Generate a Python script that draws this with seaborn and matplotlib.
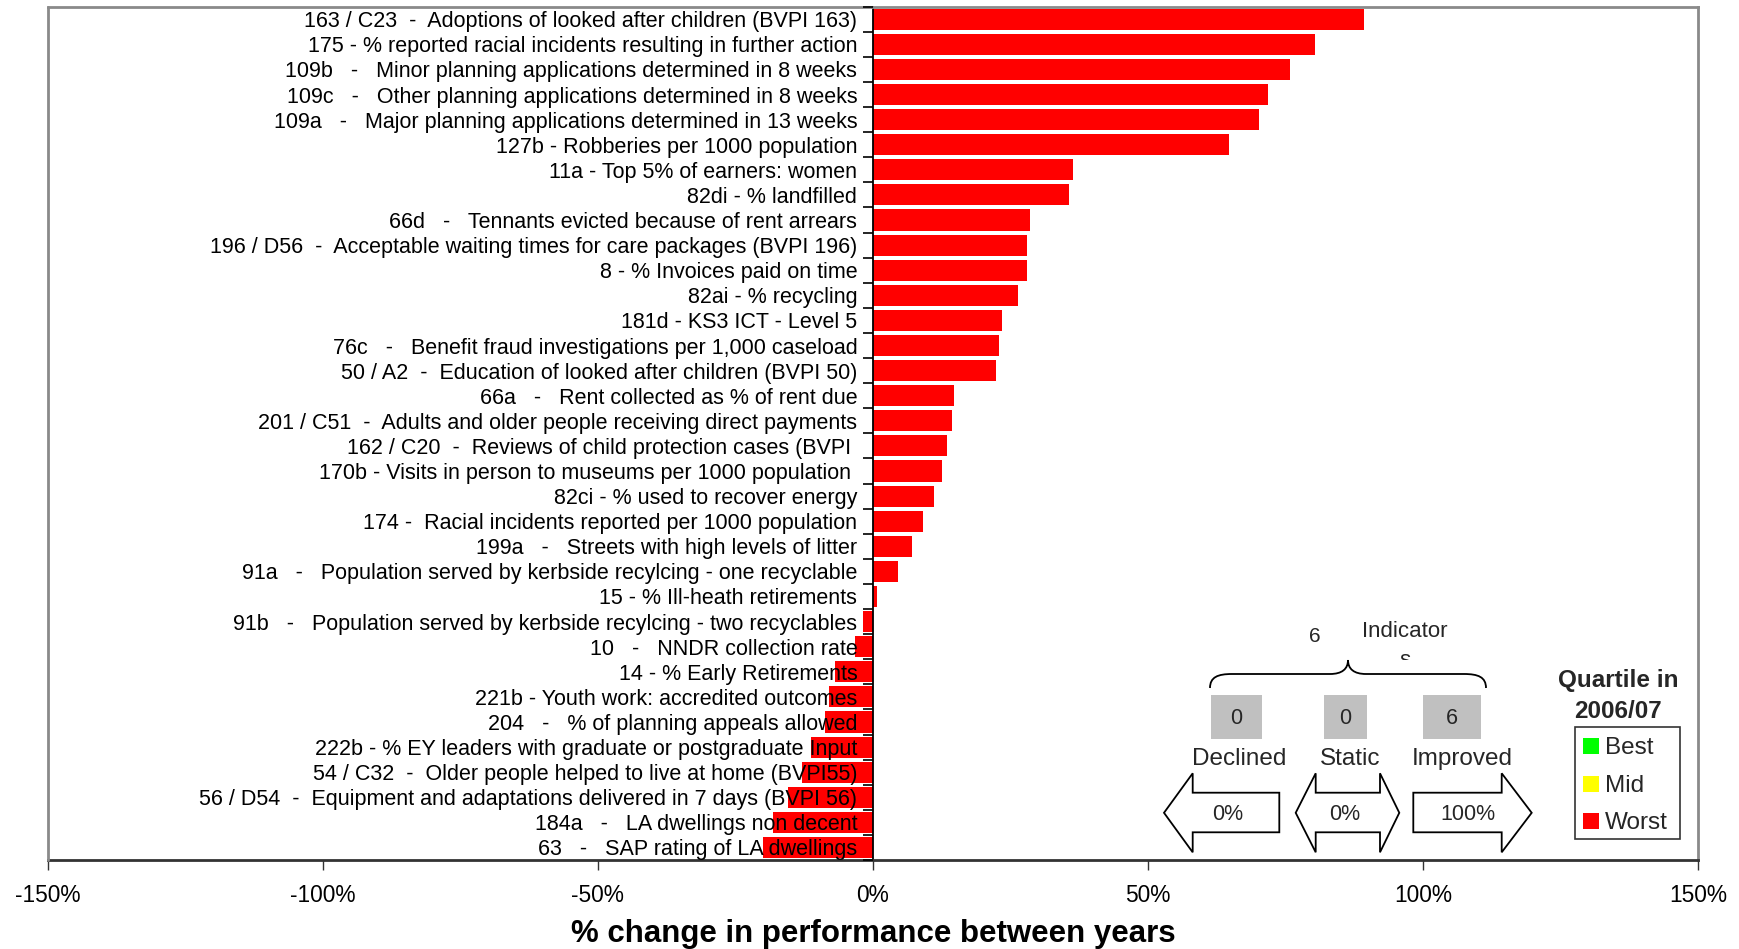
import numpy as np
import pandas as pd
import matplotlib
matplotlib.use("Agg")
import matplotlib.pyplot as plt
import seaborn as sns
from matplotlib.patches import Rectangle, Polygon, PathPatch
from matplotlib.path import Path
from matplotlib.transforms import Bbox, TransformedBbox

# ---------------- data ----------------
indicators = [
    "163 / C23  -  Adoptions of looked after children (BVPI 163)",
    "175 - % reported racial incidents resulting in further action",
    "109b   -   Minor planning applications determined in 8 weeks",
    "109c   -   Other planning applications determined in 8 weeks",
    "109a   -   Major planning applications determined in 13 weeks",
    "127b - Robberies per 1000 population",
    "11a - Top 5% of earners: women",
    "82di - % landfilled",
    "66d   -   Tennants evicted because of rent arrears",
    "196 / D56  -  Acceptable waiting times for care packages (BVPI 196)",
    "8 - % Invoices paid on time",
    "82ai - % recycling",
    "181d - KS3 ICT - Level 5",
    "76c   -   Benefit fraud investigations per 1,000 caseload",
    "50 / A2  -  Education of looked after children (BVPI 50)",
    "66a   -   Rent collected as % of rent due",
    "201 / C51  -  Adults and older people receiving direct payments",
    "162 / C20  -  Reviews of child protection cases (BVPI ",
    "170b - Visits in person to museums per 1000 population ",
    "82ci - % used to recover energy",
    "174 -  Racial incidents reported per 1000 population",
    "199a   -   Streets with high levels of litter",
    "91a   -   Population served by kerbside recylcing - one recyclable",
    "15 - % Ill-heath retirements",
    "91b   -   Population served by kerbside recylcing - two recyclables",
    "10   -   NNDR collection rate",
    "14 - % Early Retirements",
    "221b - Youth work: accredited outcomes",
    "204   -   % of planning appeals allowed",
    "222b - % EY leaders with graduate or postgraduate Input",
    "54 / C32  -  Older people helped to live at home (BVPI55)",
    "56 / D54  -  Equipment and adaptations delivered in 7 days (BVPI 56)",
    "184a   -   LA dwellings non decent",
    "63   -   SAP rating of LA dwellings",
]
change_pct = [
    89.3, 80.3, 75.8, 71.8, 70.2, 64.7, 36.4, 35.6, 28.5, 28.1, 28.0, 26.4,
    23.5, 23.0, 22.3, 14.7, 14.4, 13.4, 12.6, 11.2, 9.2, 7.1, 4.5, 0.7,
    -1.7, -3.2, -6.9, -8.0, -8.7, -11.2, -12.8, -15.5, -18.1, -20.0,
]
quartiles = [
    "Worst", "Worst", "Worst", "Worst", "Worst", "Worst", "Worst", "Worst",
    "Worst", "Worst", "Worst", "Worst", "Worst", "Worst", "Worst", "Worst",
    "Worst", "Worst", "Worst", "Worst", "Worst", "Worst", "Worst", "Worst",
    "Worst", "Worst", "Worst", "Worst", "Worst", "Worst", "Worst", "Worst",
    "Worst", "Worst",
]
xtick_values = [-150, -100, -50, 0, 50, 100, 150]
xtick_labels = ["-150%", "-100%", "-50%", "0%", "50%", "100%", "150%"]
x_title = "% change in performance between years"

legend_levels = ["Best", "Mid", "Worst"]
legend_colors = ["#00FF00", "#FFFF00", "#FF0000"]
legend_title = ["Quartile in", "2006/07"]

status_names = ["Declined", "Static", "Improved"]
status_counts = ["0", "0", "6"]
status_shares = ["0%", "0%", "100%"]
total_indicators = "6"
total_word = "Indicator"

# ---------------- style ----------------
sns.set_theme(style="white")
plt.rcParams["font.family"] = ["Liberation Sans", "DejaVu Sans"]
plt.rcParams["axes.axisbelow"] = False
plt.rcParams["axes.unicode_minus"] = False

W, H = 1740, 949
fig = plt.figure(figsize=(W / 100, H / 100), dpi=100)
fig.patch.set_facecolor("white")

ax_l, ax_r, ax_t, ax_b = 47.7, 1698.0, 6.7, 860.0
ax = fig.add_axes([ax_l / W, 1 - ax_b / H, (ax_r - ax_l) / W, (ax_b - ax_t) / H])

df = pd.DataFrame({"indicator": indicators, "change": change_pct, "quartile": quartiles})
sns.barplot(
    data=df, x="change", y="indicator", hue="quartile",
    hue_order=legend_levels, palette=dict(zip(legend_levels, legend_colors)),
    orient="h", dodge=False, width=0.84, errorbar=None, legend=False,
    linewidth=0, saturation=1, ax=ax,
)

ax.set_xlim(-150, 150)
ax.set_ylim(len(indicators) - 0.5, -0.5)
ax.set_xticks(xtick_values, xtick_labels)
ax.set_xlabel("")
ax.set_ylabel("")
ax.set_facecolor("white")

frame_gray = "#8a8a8a"
for s in ["top", "right"]:
    ax.spines[s].set_color(frame_gray)
    ax.spines[s].set_linewidth(2)
ax.spines["left"].set_position(("data", 0))
ax.spines["left"].set_color("black")
ax.spines["left"].set_linewidth(1.3)
ax.spines["bottom"].set_color("#333333")
ax.spines["bottom"].set_linewidth(2)
ax.plot([0, 0], [0, 1], transform=ax.transAxes, color=frame_gray, lw=2,
        clip_on=False, zorder=3)

ax.set_yticks(np.arange(-0.5, len(indicators), 1.0), minor=True)
ax.tick_params(axis="y", which="major", left=True, length=0, pad=11.2,
               labelsize=15.5, labelcolor="black")
ax.tick_params(axis="y", which="minor", left=True, length=7, width=1.2,
               color="black", direction="out")
ax.tick_params(axis="x", which="major", bottom=True, length=7, width=1,
               color="#333333", direction="out", pad=10.5, labelsize=16.4,
               labelcolor="black")
ax.tick_params(axis="x", which="minor", bottom=False)

# x-axis title
ax.set_xlabel(x_title, fontsize=22.5, fontweight="bold", color="black")
axh = ax_b - ax_t
ax.xaxis.set_label_coords(0.5, -(942.0 - ax_b) / axh)
ax.xaxis.label.set_verticalalignment("baseline")

# ---------------- overlay (summary panel + legend) ----------------
ov = fig.add_axes([0, 0, 1, 1])
ov.set_xlim(0, W)
ov.set_ylim(H, 0)
ov.axis("off")

# total + word
ov.text(1315, 642.3, total_indicators, ha="center", va="baseline", fontsize=15)
ov.text(1404.3, 637.3, total_word, ha="center", va="baseline", fontsize=16)
t_s = ov.text(1405, 666.5, "s", ha="center", va="baseline", fontsize=16)
t_s.set_clip_box(TransformedBbox(Bbox.from_extents(1380, 640, 1430, 659.5), ov.transData))
t_s.set_clip_on(True)

# brace
verts = [
    (1210, 688), (1210, 677), (1218, 674), (1232, 674),
    (1330, 674),
    (1342, 674), (1348, 669), (1348, 660),
    (1348, 669), (1354, 674), (1366, 674),
    (1464, 674),
    (1478, 674), (1486, 677), (1486, 688),
]
codes = [Path.MOVETO, Path.CURVE4, Path.CURVE4, Path.CURVE4,
         Path.LINETO,
         Path.CURVE4, Path.CURVE4, Path.CURVE4,
         Path.CURVE4, Path.CURVE4, Path.CURVE4,
         Path.LINETO,
         Path.CURVE4, Path.CURVE4, Path.CURVE4]
ov.add_patch(PathPatch(Path(verts, codes), fill=False, edgecolor="black", lw=1.3))

# grey count boxes
boxes = [(1211, 1261.7), (1324, 1366.7), (1423.3, 1481)]
for (x0, x1), cnt in zip(boxes, status_counts):
    ov.add_patch(Rectangle((x0, 695), x1 - x0, 44.3, facecolor="#C0C0C0",
                           edgecolor="none"))
    ov.text((x0 + x1) / 2, 724, cnt, ha="center", va="baseline", fontsize=15.5)

# status names
for xc, name in zip([1238.8, 1350, 1462], status_names):
    ov.text(xc, 765, name, ha="center", va="baseline", fontsize=17.5)

# arrows
ya, yb = 773.3, 852.3
ys0, ys1 = 792.7, 832.3
ym = (ya + yb) / 2
left_arrow = [(1164, ym), (1192.7, ya), (1192.7, ys0), (1279.3, ys0),
              (1279.3, ys1), (1192.7, ys1), (1192.7, yb)]
double_arrow = [(1295.7, ym), (1315.7, ya), (1315.7, ys0), (1380, ys0),
                (1380, ya), (1399.3, ym), (1380, yb), (1380, ys1),
                (1315.7, ys1), (1315.7, yb)]
right_arrow = [(1413.3, ys0), (1501.7, ys0), (1501.7, ya), (1531.7, ym),
               (1501.7, yb), (1501.7, ys1), (1413.3, ys1)]
for pts in [left_arrow, double_arrow, right_arrow]:
    ov.add_patch(Polygon(pts, closed=True, facecolor="white", edgecolor="black",
                         lw=1.3, joinstyle="miter"))
for xc, share in zip([1227.7, 1345, 1467.5], status_shares):
    ov.text(xc, 820, share, ha="center", va="baseline", fontsize=15.5)

# legend
ov.text(1618.3, 687.3, legend_title[0], ha="center", va="baseline",
        fontsize=17.5, fontweight="bold")
ov.text(1618.3, 718.3, legend_title[1], ha="center", va="baseline",
        fontsize=17.5, fontweight="bold")
ov.add_patch(Rectangle((1575, 726.7), 105, 112.3, facecolor="white",
                       edgecolor="#333333", lw=1.2))
for lvl, col, ytop, ybase in zip(legend_levels, legend_colors,
                                 [738, 776, 813.3], [754, 791.7, 828.7]):
    ov.add_patch(Rectangle((1583.3, ytop), 16, 16, facecolor=col, edgecolor="none"))
    ov.text(1605, ybase, lvl, ha="left", va="baseline", fontsize=17.5)

fig.savefig("out.png", dpi=100, facecolor="white")
